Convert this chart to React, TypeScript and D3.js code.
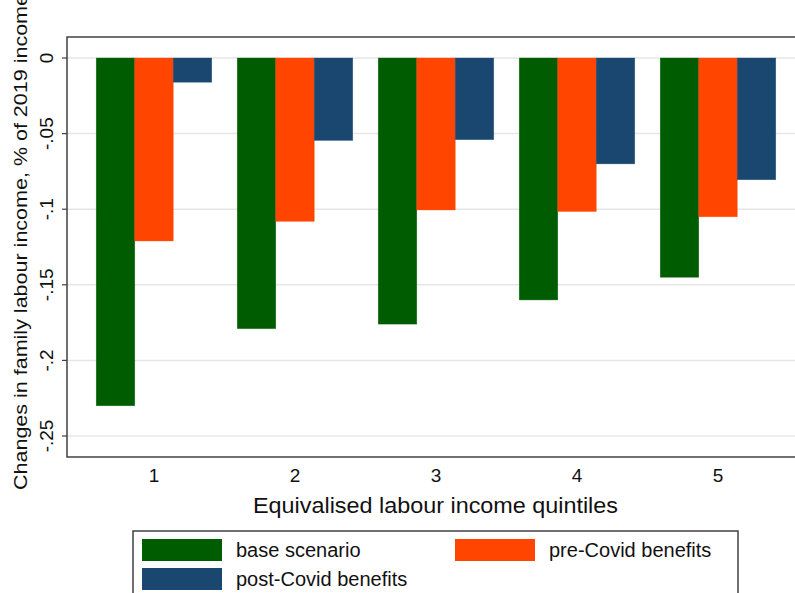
import React from "react";
import * as d3 from "d3";

const categories = ["1", "2", "3", "4", "5"];
const seriesNames = ["base scenario", "pre-Covid benefits", "post-Covid benefits"];
const baseScenario = [-0.23, -0.179, -0.176, -0.16, -0.145];
const preCovid = [-0.121, -0.108, -0.1005, -0.1015, -0.105];
const postCovid = [-0.016, -0.0545, -0.054, -0.07, -0.0805];
const yTicks = [0, -0.05, -0.1, -0.15, -0.2, -0.25];
const yTickLabels = ["0", "-.05", "-.1", "-.15", "-.2", "-.25"];
const colors = ["#005c00", "#ff4500", "#1a476f"];

const W = 795;
const H = 593;
const plot = { left: 67, right: 805, top: 37, bottom: 457 };
const font = "'Liberation Sans', Arial, Helvetica, sans-serif";

export default function App() {
  const series = [baseScenario, preCovid, postCovid];
  const x = d3
    .scaleBand<string>()
    .domain(categories)
    .range([plot.left, plot.right])
    .paddingInner(0.181)
    .paddingOuter(0.2075);
  const xs = d3
    .scaleBand<number>()
    .domain(d3.range(series.length))
    .range([0, x.bandwidth()])
    .padding(0);
  const y = d3.scaleLinear().domain([-0.2639, 0.0139]).range([plot.bottom, plot.top]);

  return (
    <svg
      width={W}
      height={H}
      style={{ position: "absolute", left: 0, top: 0, background: "#fff" }}
      fontFamily={font}
    >
      <rect x={0} y={0} width={W} height={H} fill="#fff" />
      {/* gridlines */}
      {yTicks.map((t) => (
        <line
          key={"g" + t}
          x1={plot.left}
          x2={plot.right}
          y1={y(t)}
          y2={y(t)}
          stroke="#e6e6e6"
          strokeWidth={1.5}
        />
      ))}
      {/* bars */}
      {categories.map((c, i) => (
        <g key={c} transform={`translate(${x(c)},0)`}>
          {series.map((s, j) => (
            <rect
              key={j}
              x={xs(j)}
              y={y(0)}
              width={xs.bandwidth()}
              height={y(s[i]) - y(0)}
              fill={colors[j]}
              stroke={colors[j]}
              strokeOpacity={0.6}
              strokeWidth={0.6}
            />
          ))}
        </g>
      ))}
      {/* frame */}
      <rect
        x={plot.left}
        y={plot.top}
        width={plot.right - plot.left}
        height={plot.bottom - plot.top}
        fill="none"
        stroke="#404040"
        strokeWidth={1.5}
      />
      {/* y ticks */}
      {yTicks.map((t, i) => (
        <g key={"t" + t}>
          <line x1={plot.left - 5} x2={plot.left} y1={y(t)} y2={y(t)} stroke="#404040" strokeWidth={1.2} />
          <text
            transform={`translate(53,${y(t)}) rotate(-90)`}
            textAnchor="middle"
            fontSize={19}
            fill="#111"
          >
            {yTickLabels[i]}
          </text>
        </g>
      ))}
      {/* y title */}
      <text
        transform={`translate(27,490) rotate(-90)`}
        textAnchor="start"
        fontSize={19}
        textLength={496}
        lengthAdjust="spacingAndGlyphs"
        fill="#111"
      >
        Changes in family labour income, % of 2019 income
      </text>
      {/* x tick labels */}
      {categories.map((c) => (
        <text
          key={"x" + c}
          x={(x(c) as number) + x.bandwidth() / 2}
          y={481.5}
          textAnchor="middle"
          fontSize={19}
          fill="#111"
        >
          {c}
        </text>
      ))}
      {/* x title */}
      <text
        x={253}
        y={513}
        textAnchor="start"
        fontSize={22}
        textLength={365}
        lengthAdjust="spacingAndGlyphs"
        fill="#111"
      >
        Equivalised labour income quintiles
      </text>
      {/* legend */}
      <rect x={133} y={531} width={605} height={80} fill="#fff" stroke="#404040" strokeWidth={1.5} />
      {seriesNames.map((name, j) => {
        const col = j % 2;
        const row = Math.floor(j / 2);
        const lx = col === 0 ? 142 : 455;
        const ly = 539 + row * 29;
        return (
          <g key={name}>
            <rect x={lx} y={ly} width={80} height={22} fill={colors[j]} />
            <text x={lx + 94} y={ly + 18} fontSize={20} fill="#111">
              {name}
            </text>
          </g>
        );
      })}
    </svg>
  );
}
